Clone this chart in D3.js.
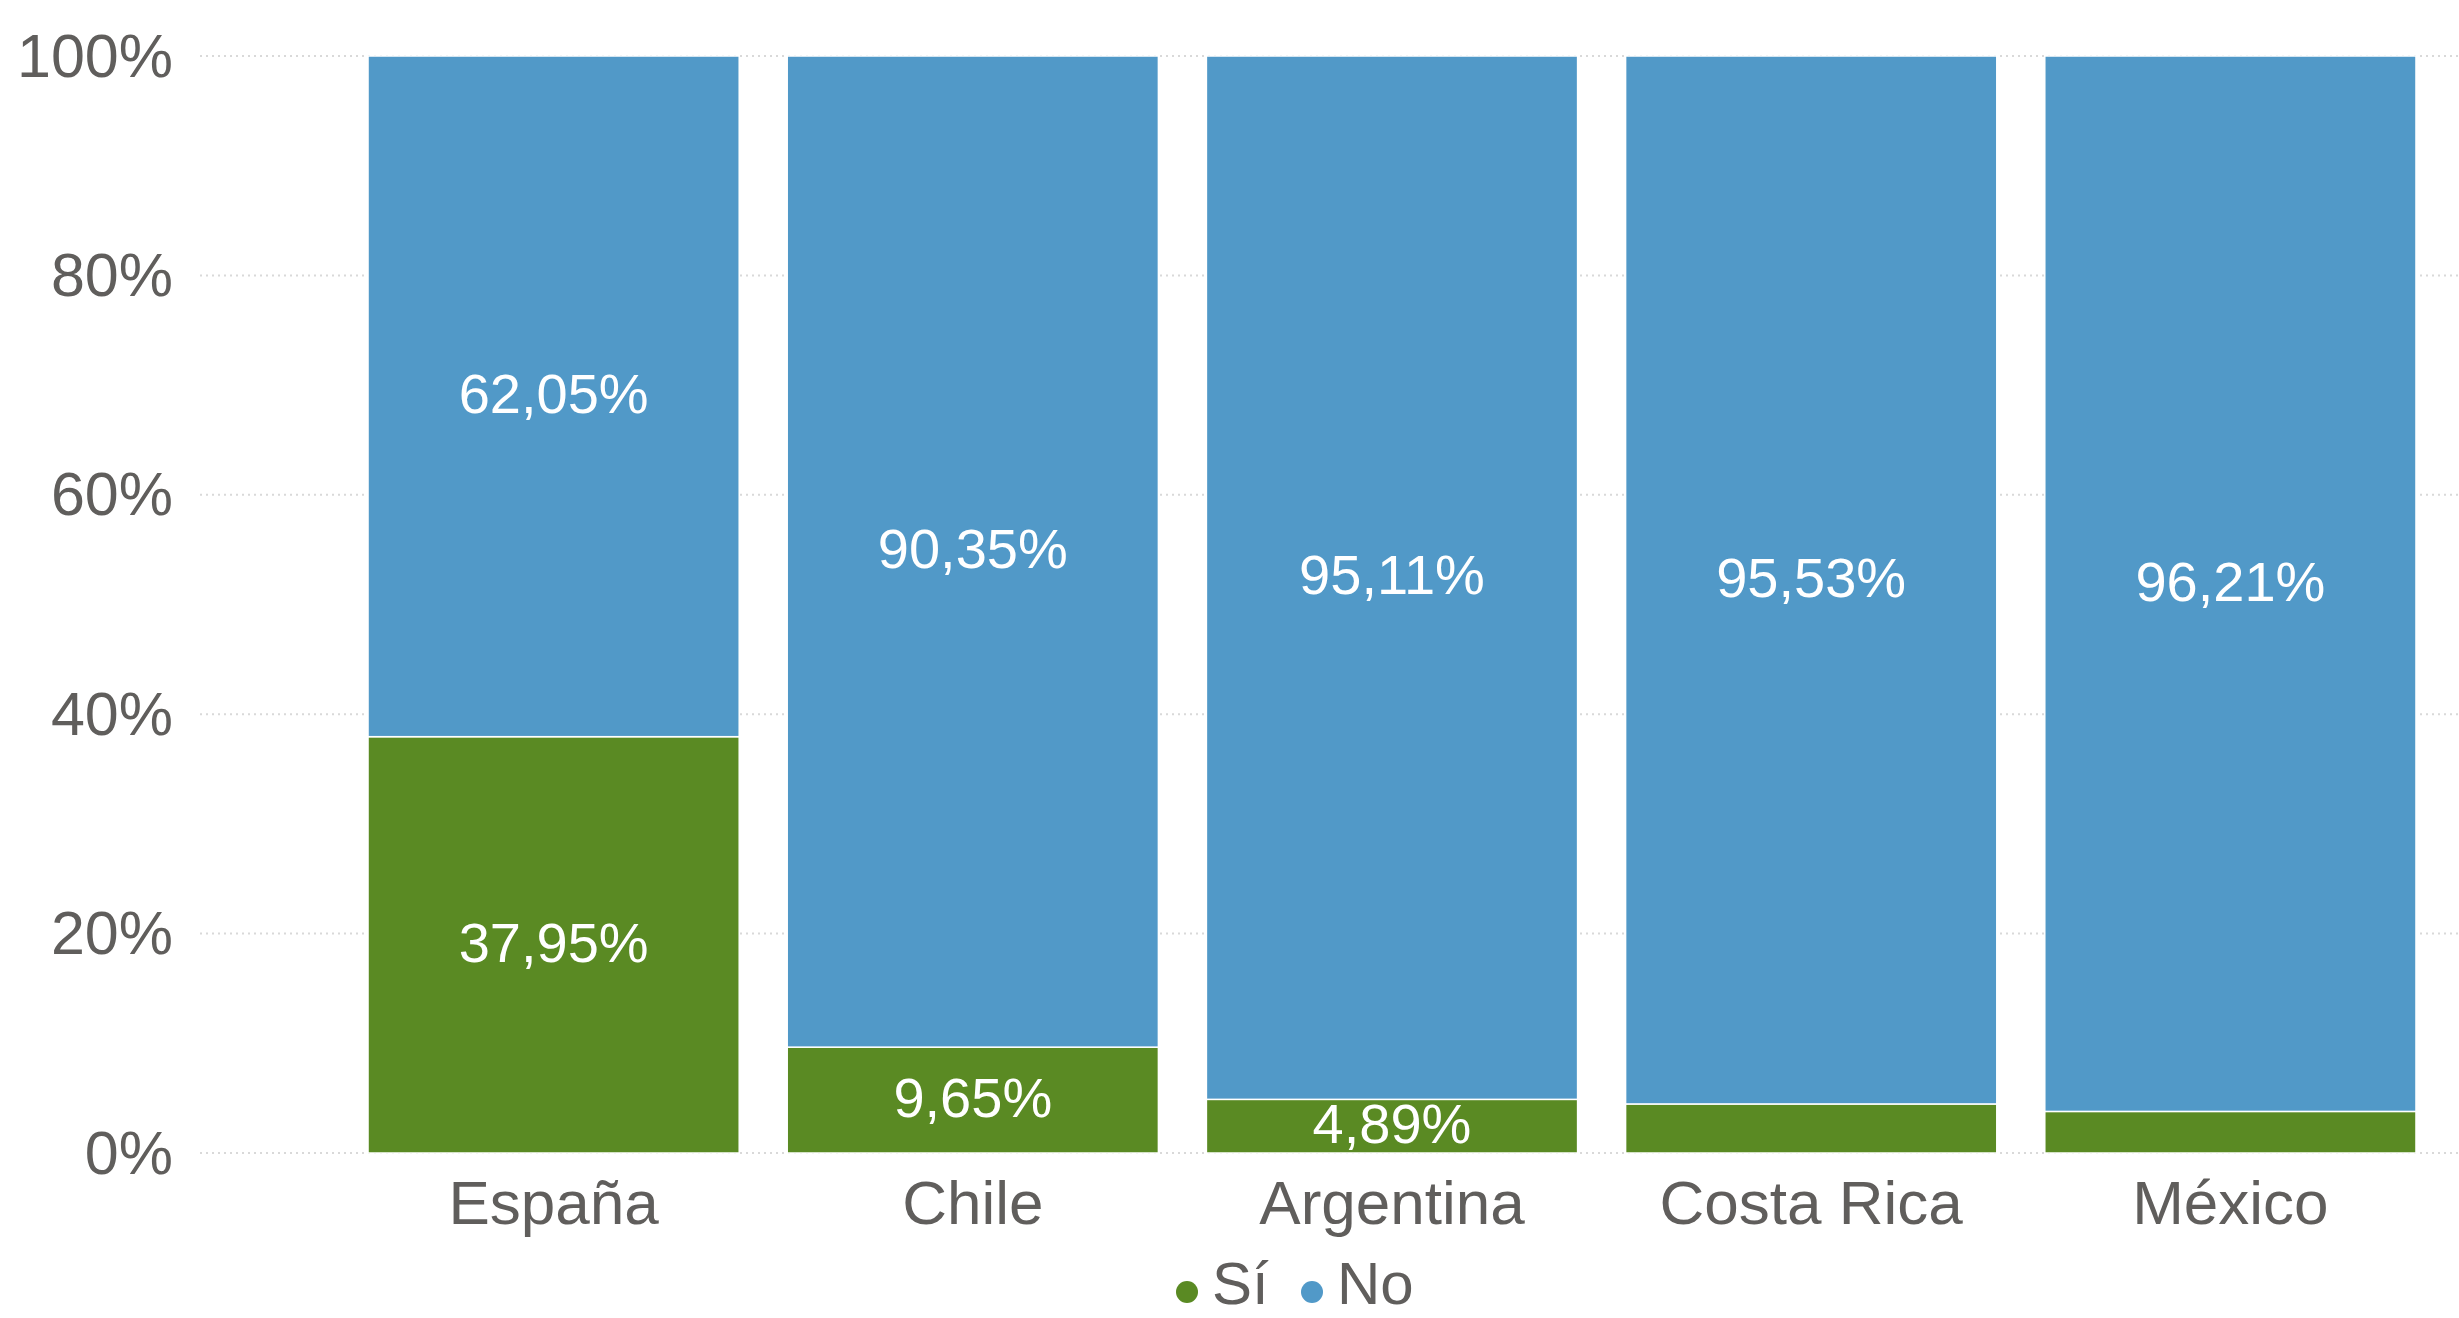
<!DOCTYPE html>
<html lang="es">
<head>
<meta charset="utf-8">
<title>Sí / No por país</title>
<script src="https://cdn.jsdelivr.net/npm/d3@7"></script>
<style>
  html, body { margin: 0; padding: 0; background: #ffffff; }
  svg { display: block; }
  text { font-family: "Liberation Sans", Arial, "Helvetica", sans-serif; }
</style>
</head>
<body>
<svg id="chart" width="2459" height="1318"></svg>
<script>
// Porcentaje de respuestas por país
const countries = ["España", "Chile", "Argentina", "Costa Rica", "México"];
const siValues  = [37.95, 9.65, 4.89, 4.47, 3.79];
const noValues  = [62.05, 90.35, 95.11, 95.53, 96.21];
const seriesKeys = ["Sí", "No"];
const seriesColors = ["#5A8A23", "#5199C8"];
const yTickValues = [0, 20, 40, 60, 80, 100];

const W = 2459, H = 1318;
const plot = { left: 200, right: 2459, top: 56, bottom: 1153 };
const textColor = "#605E5C";

const svg = d3.select("#chart");

const rows = countries.map((c, i) => ({ country: c, "Sí": siValues[i], "No": noValues[i] }));
const stacked = d3.stack().keys(seriesKeys)(rows);

const x = d3.scaleBand()
  .domain(countries)
  .range([344, 2440])
  .paddingInner(0.1145)
  .paddingOuter(0.0573);

const y = d3.scaleLinear()
  .domain([0, 100])
  .range([plot.bottom, plot.top]);

const color = d3.scaleOrdinal().domain(seriesKeys).range(seriesColors);

// Líneas de cuadrícula punteadas
svg.append("g")
  .selectAll("line")
  .data(yTickValues)
  .join("line")
  .attr("x1", plot.left)
  .attr("x2", plot.right)
  .attr("y1", d => y(d))
  .attr("y2", d => y(d))
  .attr("stroke", "#d9d9d9")
  .attr("stroke-width", 2)
  .attr("stroke-dasharray", "2,4");

// Eje Y
const yAxis = svg.append("g")
  .attr("transform", `translate(${plot.left - 27},0)`)
  .call(d3.axisLeft(y).tickValues(yTickValues).tickFormat(d => d + "%").tickSize(0).tickPadding(0));
yAxis.select(".domain").remove();
yAxis.selectAll("text")
  .attr("font-size", 61)
  .attr("fill", textColor)
  .attr("dy", "0.33em");

// Barras apiladas
const layers = svg.append("g")
  .selectAll("g")
  .data(stacked)
  .join("g")
  .attr("fill", d => color(d.key));

layers.selectAll("rect")
  .data(d => d.map(v => ({ key: d.key, v })))
  .join("rect")
  .attr("x", d => x(d.v.data.country))
  .attr("width", x.bandwidth())
  .attr("y", d => y(d.v[1]))
  .attr("height", d => y(d.v[0]) - y(d.v[1]))
  .attr("stroke", "#ffffff")
  .attr("stroke-width", 1.5);

// Etiquetas de datos (solo cuando caben en el segmento)
const fmt = v => v.toFixed(2).replace(".", ",") + "%";
const labelSize = 56;
svg.append("g")
  .selectAll("g")
  .data(stacked)
  .join("g")
  .selectAll("text")
  .data(d => d.map(v => ({ key: d.key, v })))
  .join("text")
  .filter(d => (y(d.v[0]) - y(d.v[1])) >= 52)
  .attr("x", d => x(d.v.data.country) + x.bandwidth() / 2)
  .attr("y", d => (y(d.v[0]) + y(d.v[1])) / 2)
  .attr("dy", "0.3em")
  .attr("text-anchor", "middle")
  .attr("font-size", labelSize)
  .attr("fill", "#ffffff")
  .text(d => fmt(d.v[1] - d.v[0]));

// Eje X
const xAxis = svg.append("g")
  .attr("transform", `translate(0,${plot.bottom})`)
  .call(d3.axisBottom(x).tickSize(0).tickPadding(0));
xAxis.select(".domain").remove();
xAxis.selectAll("text")
  .attr("font-size", 62)
  .attr("fill", textColor)
  .attr("dy", 0)
  .attr("y", 71);

// Leyenda
const legend = svg.append("g").attr("transform", "translate(1176,1290)");
const legendPos = [0, 125];
const items = legend.selectAll("g")
  .data(seriesKeys)
  .join("g")
  .attr("transform", (d, i) => `translate(${legendPos[i]},0)`);
items.append("circle")
  .attr("cx", 11)
  .attr("cy", 2)
  .attr("r", 11)
  .attr("fill", d => color(d));
items.append("text")
  .attr("x", 36)
  .attr("y", 14)
  .attr("font-size", 60)
  .attr("fill", textColor)
  .text(d => d);
</script>
</body>
</html>
